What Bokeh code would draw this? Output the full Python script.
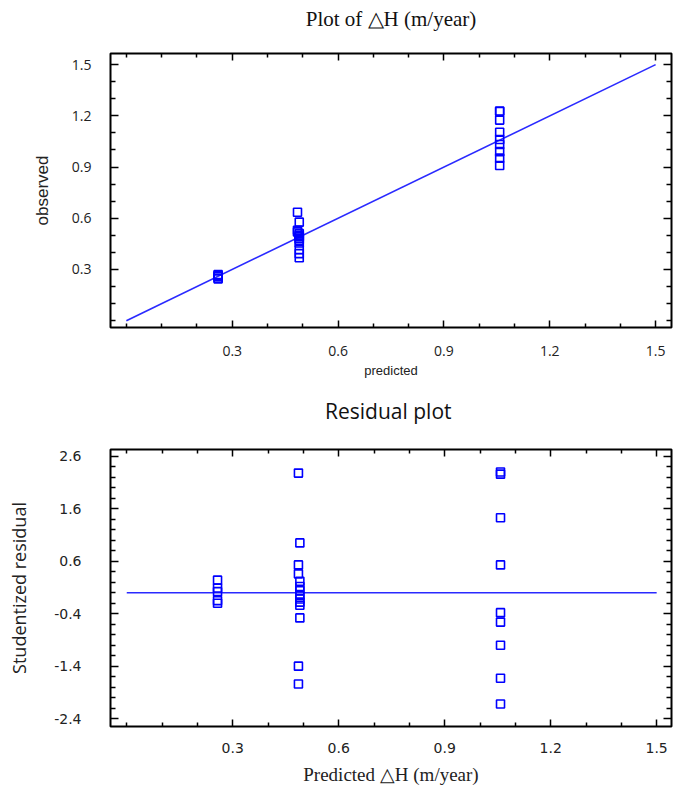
from bokeh.plotting import figure
from bokeh.models import FixedTicker, LinearAxis, Range1d, NumeralTickFormatter
from bokeh.layouts import column
from bokeh.embed import file_html
from bokeh.resources import INLINE

# ---------------- data ----------------
# Plot of observed vs predicted dH (m/year)
top_predicted = [0.26, 0.26, 0.26, 0.26, 0.26,
                 0.485, 0.49, 0.485, 0.485, 0.49, 0.49, 0.49, 0.49, 0.49, 0.49, 0.49, 0.49, 0.49, 0.49,
                 1.058, 1.058, 1.058, 1.058, 1.058, 1.058, 1.058, 1.058, 1.058]
top_observed = [0.27, 0.265, 0.26, 0.25, 0.245,
                0.635, 0.577, 0.53, 0.52, 0.51, 0.50, 0.495, 0.49, 0.48, 0.47, 0.455, 0.417, 0.393, 0.369,
                1.228, 1.225, 1.175, 1.104, 1.061, 1.032, 0.99, 0.952, 0.909]
diag_x = [0.0, 1.5]
diag_y = [0.0, 1.5]

# Residual plot
res_predicted = [0.257, 0.257, 0.257, 0.257, 0.257,
                 0.486, 0.49, 0.486, 0.486, 0.49, 0.49, 0.49, 0.49, 0.49, 0.49, 0.49, 0.49, 0.486, 0.486,
                 1.058, 1.058, 1.058, 1.058, 1.058, 1.058, 1.058, 1.058, 1.058]
res_student = [0.24, 0.09, 0.02, -0.15, -0.20,
               2.28, 0.95, 0.53, 0.36, 0.22, 0.12, 0.04, -0.05, -0.12, -0.18, -0.24, -0.48, -1.40, -1.74,
               2.30, 2.26, 1.43, 0.53, -0.38, -0.56, -1.0, -1.63, -2.12]
zero_x = [0.0, 1.5]
zero_y = [0.0, 0.0]

# ticks
top_x_major = [0.3, 0.6, 0.9, 1.2, 1.5]
top_x_minor = [0.0, 0.1, 0.2, 0.4, 0.5, 0.7, 0.8, 1.0, 1.1, 1.3, 1.4]
top_y_major = [0.3, 0.6, 0.9, 1.2, 1.5]
top_y_minor = [0.0, 0.1, 0.2, 0.4, 0.5, 0.7, 0.8, 1.0, 1.1, 1.3, 1.4]
res_x_major = [0.3, 0.6, 0.9, 1.2, 1.5]
res_x_minor = [0.0, 0.1, 0.2, 0.4, 0.5, 0.7, 0.8, 1.0, 1.1, 1.3, 1.4]
res_y_major = [-2.4, -1.4, -0.4, 0.6, 1.6, 2.6]
res_y_minor = [-2.2, -2.0, -1.8, -1.6, -1.2, -1.0, -0.8, -0.6, -0.2, 0.0, 0.2, 0.4,
               0.8, 1.0, 1.2, 1.4, 1.8, 2.0, 2.2, 2.4]

TOP_TITLE = "Plot of \u25b3H (m/year)"
RES_TITLE = "Residual  plot"

BLUE = "#0000ff"
LINE_BLUE = "#2a2aff"
TXT = "#222222"


def style_ticks(ax, major, minor, major_len, minor_len):
    ax.ticker = FixedTicker(ticks=major, minor_ticks=minor)
    ax.axis_line_color = None
    ax.major_tick_in = major_len
    ax.major_tick_out = 0
    ax.minor_tick_in = minor_len
    ax.minor_tick_out = 0
    ax.major_tick_line_color = "black"
    ax.minor_tick_line_color = "black"
    ax.major_tick_line_width = 1.5
    ax.minor_tick_line_width = 1.5


def labelled_axis(ax, major, minor, font, size, standoff, major_len=7, minor_len=4):
    style_ticks(ax, major, minor, major_len, minor_len)
    ax.formatter = NumeralTickFormatter(format="0.0")
    ax.major_label_text_font = font
    ax.major_label_text_font_size = size
    ax.major_label_text_color = TXT
    ax.major_label_standoff = standoff


def mirror_ticks(p, side, major, minor, major_len, minor_len):
    # two label-free axes: short ticks at minor positions, long ticks at major positions
    axes = []
    for ticks, length in ((minor, minor_len), (major, major_len)):
        ax = LinearAxis(axis_label=None)
        ax.ticker = FixedTicker(ticks=[], minor_ticks=ticks)
        ax.axis_line_color = None
        ax.major_tick_in = 0
        ax.major_tick_out = 0
        ax.minor_tick_in = length
        ax.minor_tick_out = 0
        ax.minor_tick_line_color = "black"
        ax.minor_tick_line_width = 1.5
        ax.major_label_standoff = 0
        p.add_layout(ax, side)
        axes.append(ax)
    return axes[-1]


def heading(ax, text, font, size, standoff):
    ax.axis_label = text
    ax.axis_label_text_font = font
    ax.axis_label_text_font_size = size
    ax.axis_label_text_font_style = "normal"
    ax.axis_label_text_color = "#111111"
    ax.axis_label_standoff = standoff


# ---------------- top figure ----------------
p1 = figure(width=686, height=380, output_backend="svg", toolbar_location=None,
            x_range=Range1d(-0.045, 1.545), y_range=Range1d(-0.04, 1.565),
            min_border_left=110, min_border_right=15, min_border_top=53, min_border_bottom=53)
p1.grid.visible = False
p1.outline_line_color = "black"
p1.outline_line_width = 2

labelled_axis(p1.xaxis[0], top_x_major, top_x_minor, "Open Sans", "14px", 18)
labelled_axis(p1.yaxis[0], top_y_major, top_y_minor, "Open Sans", "14px", 19, major_len=8, minor_len=5)
p1.xaxis[0].axis_label = "predicted"
p1.yaxis[0].axis_label = "observed"
p1.xaxis[0].axis_label_text_font = "Liberation Sans Narrow, Liberation Sans"
p1.xaxis[0].axis_label_text_font_size = "13px"
p1.yaxis[0].axis_label_text_font = "Liberation Sans Narrow, Liberation Sans"
p1.yaxis[0].axis_label_text_font_size = "17px"
for ax in (p1.xaxis[0], p1.yaxis[0]):
    ax.axis_label_text_font_style = "normal"
    ax.axis_label_text_color = TXT
p1.xaxis[0].axis_label_standoff = 4
p1.yaxis[0].axis_label_standoff = 17

top_axis1 = mirror_ticks(p1, "above", top_x_major, top_x_minor, 7, 4)
mirror_ticks(p1, "right", top_y_major, top_y_minor, 8, 5)
heading(top_axis1, TOP_TITLE, "Liberation Serif", "21px", 23)

p1.line(diag_x, diag_y, line_color=LINE_BLUE, line_width=1.6)
p1.scatter(top_predicted, top_observed, marker="square", size=8, fill_color=None,
           line_color=BLUE, line_width=1.6)

# ---------------- residual figure ----------------
p2 = figure(width=686, height=407, output_backend="svg", toolbar_location=None,
            x_range=Range1d(-0.046, 1.542), y_range=Range1d(-2.55, 2.73),
            min_border_left=97, min_border_right=3, min_border_top=69, min_border_bottom=57)
p2.grid.visible = False
p2.outline_line_color = "black"
p2.outline_line_width = 2

labelled_axis(p2.xaxis[0], res_x_major, res_x_minor, "DejaVu Sans", "14px", 16)
labelled_axis(p2.yaxis[0], res_y_major, res_y_minor, "DejaVu Sans", "14px", 29, major_len=8, minor_len=5)
p2.xaxis[0].axis_label = "Predicted \u25b3H (m/year)"
p2.xaxis[0].axis_label_text_font = "Liberation Serif"
p2.xaxis[0].axis_label_text_font_size = "19px"
p2.xaxis[0].axis_label_text_font_style = "normal"
p2.xaxis[0].axis_label_text_color = TXT
p2.xaxis[0].axis_label_standoff = 8
p2.yaxis[0].axis_label = "Studentized residual"
p2.yaxis[0].axis_label_text_font = "Open Sans"
p2.yaxis[0].axis_label_text_font_size = "18px"
p2.yaxis[0].axis_label_text_font_style = "normal"
p2.yaxis[0].axis_label_text_color = TXT
p2.yaxis[0].axis_label_standoff = 20

res_axis1 = mirror_ticks(p2, "above", res_x_major, res_x_minor, 7, 4)
mirror_ticks(p2, "right", res_y_major, res_y_minor, 8, 5)
heading(res_axis1, RES_TITLE, "Open Sans", "21px", 25)

p2.line(zero_x, zero_y, line_color=LINE_BLUE, line_width=1.6)
p2.scatter(res_predicted, res_student, marker="square", size=8, fill_color=None,
           line_color=BLUE, line_width=1.6)

layout = column(p1, p2, spacing=0)
open("out.html", "w").write(file_html(layout, INLINE))
